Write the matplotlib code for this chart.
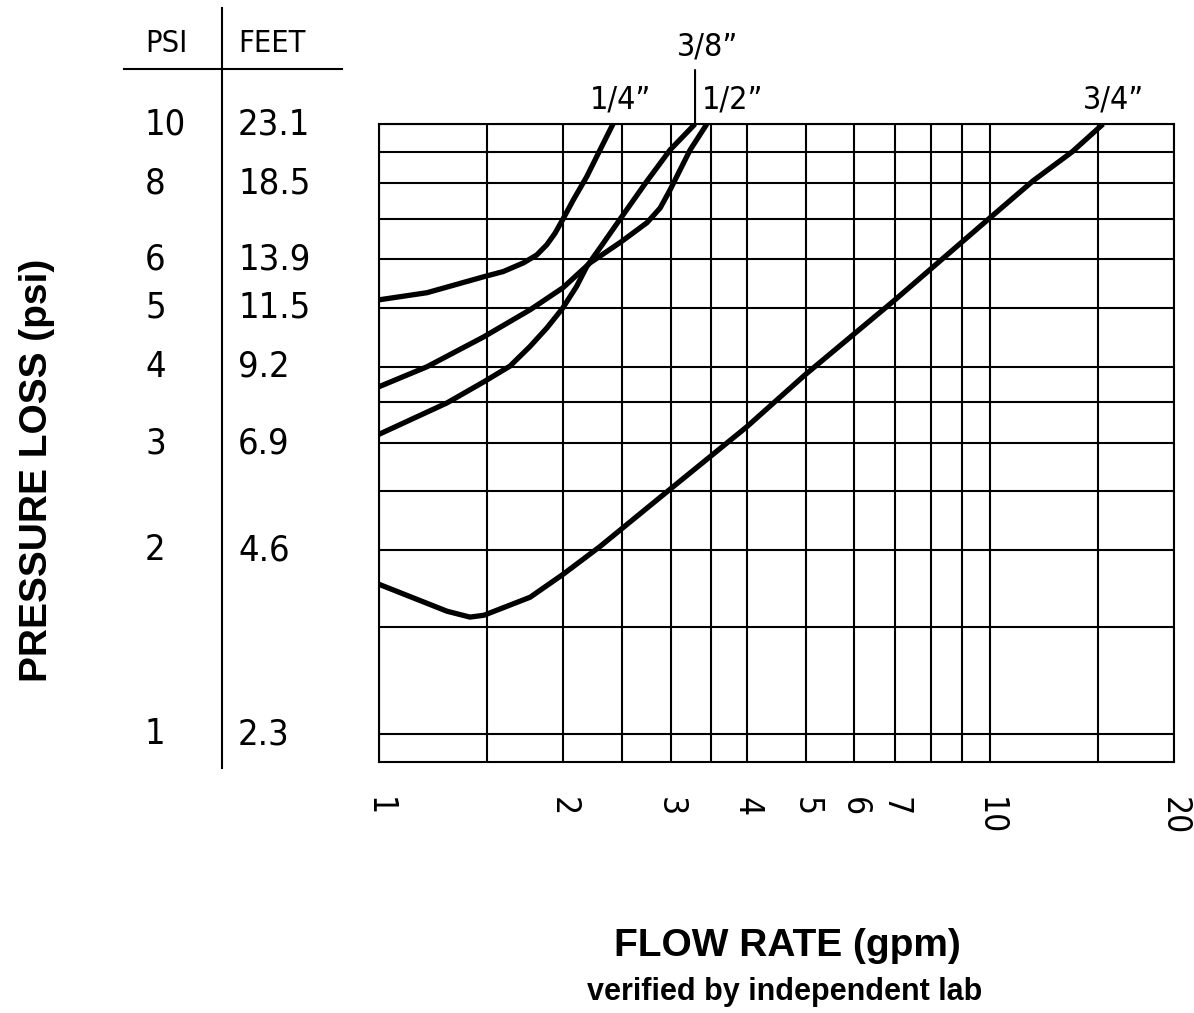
import matplotlib
matplotlib.use("Agg")
import matplotlib.pyplot as plt
from matplotlib import transforms
from matplotlib.lines import Line2D
from matplotlib.font_manager import FontProperties
from matplotlib.ticker import NullLocator

# pressure loss curves (flow in gpm, loss in psi)
flow_quarter = [1.0, 1.198, 1.485, 1.597, 1.723, 1.812, 1.882, 1.941, 1.998,
                2.080, 2.188, 2.329, 2.415]
loss_quarter = [5.15, 5.29, 5.62, 5.73, 5.92, 6.10, 6.34, 6.62, 6.97,
                7.51, 8.20, 9.30, 10.0]

flow_three_eighths = [1.0, 1.292, 1.485, 1.638, 1.767, 1.882, 1.998, 2.106,
                      2.188, 2.329, 2.487, 2.742, 2.995, 3.29]
loss_three_eighths = [3.10, 3.49, 3.78, 4.01, 4.32, 4.63, 4.99, 5.42,
                      5.84, 6.38, 7.01, 8.05, 9.07, 10.0]

flow_half = [1.0, 1.198, 1.485, 1.767, 2.0, 2.215, 2.49, 2.745, 2.884, 2.995,
             3.11, 3.23, 3.44]
loss_half = [3.71, 4.00, 4.48, 4.96, 5.39, 5.92, 6.41, 6.89, 7.28, 7.80,
             8.41, 9.07, 10.0]

flow_three_quarter = [1.0, 1.292, 1.409, 1.485, 1.767, 2.0, 2.30, 2.995, 4.0,
                      4.98, 6.99, 10.0, 11.76, 13.62, 15.31]
loss_three_quarter = [1.76, 1.59, 1.555, 1.566, 1.676, 1.827, 2.03, 2.52, 3.19,
                      3.88, 5.15, 7.02, 8.07, 9.0, 10.0]

curve_labels = ['1/4\u201d', '3/8\u201d', '1/2\u201d', '3/4\u201d']

# grid and scale values
grid_flow = [1, 1.5, 2, 2.5, 3, 3.5, 4, 5, 6, 7, 8, 9, 10, 15, 20]
flow_labels = {1: '1', 2: '2', 3: '3', 4: '4', 5: '5', 6: '6', 7: '7',
               10: '10', 20: '20'}
grid_psi = [1, 1.5, 2, 2.5, 3, 3.5, 4, 5, 6, 7, 8, 9, 10]

psi_rows = [10, 8, 6, 5, 4, 3, 2, 1]
feet_rows = ['23.1', '18.5', '13.9', '11.5', '9.2', '6.9', '4.6', '2.3']

W, H = 1194, 1013


def cad(size):
    return FontProperties(family='DejaVu Sans', stretch='condensed',
                          weight='light', size=size)


fig = plt.figure(figsize=(W / 100, H / 100), dpi=100)
ax = fig.add_axes([379 / W, 251 / H, 795 / W, 638 / H])
ax.set_xscale('log')
ax.set_yscale('log')
ax.set_xlim(1, 20)
ax.set_ylim(0.9, 10)

ax.set_xticks(grid_flow)
ax.set_xticklabels([flow_labels.get(v, '') for v in grid_flow],
                   rotation=-90, fontproperties=cad(24))
ax.set_yticks(grid_psi)
ax.set_yticklabels([])
ax.xaxis.set_minor_locator(NullLocator())
ax.yaxis.set_minor_locator(NullLocator())
ax.tick_params(length=0)
ax.tick_params(axis='x', pad=25)
ax.grid(True, which='major', color='black', linewidth=1.5)
for sp in ax.spines.values():
    sp.set_linewidth(1.5)

curves = [(flow_quarter, loss_quarter),
          (flow_three_eighths, loss_three_eighths),
          (flow_half, loss_half),
          (flow_three_quarter, loss_three_quarter)]
for fx, fy in curves:
    ax.plot(fx, fy, color='black', linewidth=3.8, solid_joinstyle='round',
            solid_capstyle='butt')

# size labels above the curve ends
label_offsets = [(8, 16), (13, 69), (26, 16), (10, 16)]
for (fx, fy), text, off in zip(curves, curve_labels, label_offsets):
    ax.annotate(text, xy=(fx[-1], fy[-1]), xytext=off,
                textcoords='offset pixels', ha='center', va='baseline',
                fontproperties=cad(23), annotation_clip=False)

# leader for the 3/8" curve
ax.annotate('', xy=(flow_three_eighths[-1], 10), xytext=(0, 54),
            textcoords='offset pixels', annotation_clip=False,
            arrowprops=dict(arrowstyle='-', lw=1.5, color='black',
                            shrinkA=0, shrinkB=0))

# PSI / FEET scale on the left
trans = transforms.blended_transform_factory(fig.transFigure, ax.transData)
for p, ft in zip(psi_rows, feet_rows):
    ax.text(145 / W, p, str(p), transform=trans, ha='left', va='center',
            fontproperties=cad(26))
    ax.text(238 / W, p, ft, transform=trans, ha='left', va='center',
            fontproperties=cad(26))

fig.text(145 / W, 1 - 43 / H, 'PSI', ha='left', va='center',
         fontproperties=cad(22))
fig.text(238 / W, 1 - 43 / H, 'FEET', ha='left', va='center',
         fontproperties=cad(22))
fig.add_artist(Line2D([124 / W, 342 / W], [1 - 69 / H, 1 - 69 / H],
                      color='black', linewidth=1.5))
fig.add_artist(Line2D([222 / W, 222 / W], [1 - 8 / H, 1 - 768 / H],
                      color='black', linewidth=1.5))

# axis titles
fig.text(37 / W, 1 - 470 / H, 'PRESSURE LOSS (psi)', rotation=90,
         ha='center', va='center', family='Liberation Sans',
         fontweight='bold', fontsize=28)
fig.text(787 / W, 1 - 946 / H, 'FLOW RATE (gpm)', ha='center', va='center',
         family='Liberation Sans', fontweight='bold', fontsize=28)
fig.text(785 / W, 1 - 992 / H, 'verified by independent lab', ha='center',
         va='center', family='Liberation Sans', fontweight='bold', fontsize=22)

fig.savefig('out.png', dpi=100, facecolor='white')
